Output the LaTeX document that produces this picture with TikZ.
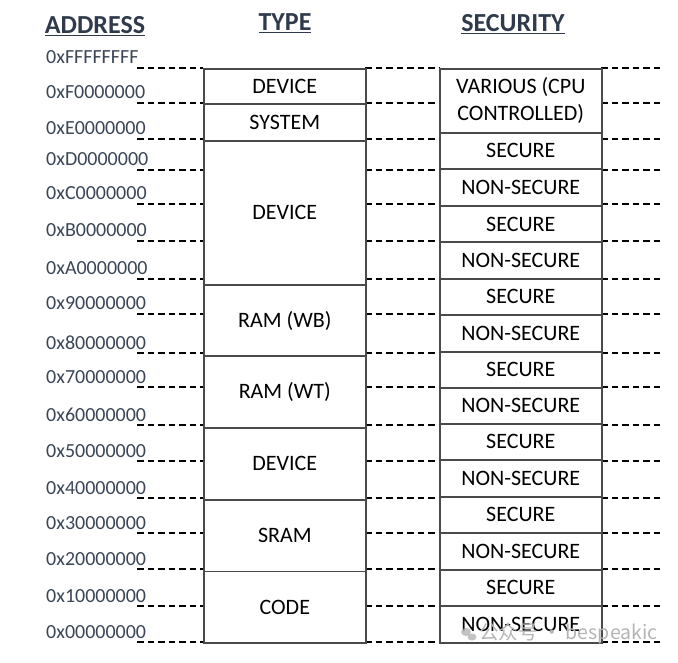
\documentclass[tikz,border=0pt]{standalone}
\usepackage{fontspec}
\setmainfont{Carlito}
\newfontfamily\cjk{Noto Sans CJK SC}
\definecolor{headc}{HTML}{2F3B4C}
\definecolor{addrc}{HTML}{3A4656}
\definecolor{boxline}{HTML}{4A4A4A}
\definecolor{wmc}{HTML}{B4B4B4}
\begin{document}
\begin{tikzpicture}[x=1pt,y=-1pt,
  boxnode/.style={draw=boxline, line width=1.6pt, inner sep=0pt, anchor=north west,
    minimum width=162pt, font=\fontsize{22}{27}\selectfont, text=black, align=center},
  addr/.style={anchor=base west, inner sep=0pt, text=addrc, font=\fontsize{20}{24}\selectfont},
  head/.style={inner sep=0pt, text=headc, font=\fontsize{26}{30}\selectfont\bfseries},
  guide/.style={draw=black, line width=1.1pt, dash pattern=on 6.5pt off 4pt}]
\useasboundingbox (0,0) rectangle (678,663);
% headings
\node[head] (hA) at (95,26) {\underline{ADDRESS}};
\node[head] (hT) at (285,23) {\underline{TYPE}};
\node[head] (hS) at (513,24) {\underline{SECURITY}};
% address labels
\foreach \y/\t/\n in {68/0xFFFFFFFF/0,103/0xF0000000/1,139/0xE0000000/2,170/0xD0000000/3,
  204/0xC0000000/4,241/0xB0000000/5,279/0xA0000000/6,314/0x90000000/7,353/0x80000000/8,
  387/0x70000000/9,425/0x60000000/10,461/0x50000000/11,498/0x40000000/12,533/0x30000000/13,
  569/0x20000000/14,606/0x10000000/15,642/0x00000000/16}{
  \node[addr] (a\n) at (46,\y-4) {\t};
  \draw[guide] (137,\y) -- (203,\y);
  \draw[guide] (365,\y) -- (439,\y);
  \draw[guide] (601,\y) -- (660,\y);
}
% type column
\node[boxnode, minimum height=35.5pt] (t1) at (203,68) {DEVICE};
\node[boxnode, minimum height=36.5pt] (t2) at (203,103.5) {SYSTEM};
\node[boxnode, minimum height=144pt] (t3) at (203,140) {DEVICE};
\node[boxnode, minimum height=71.5pt] (t4) at (203,284) {RAM (WB)};
\node[boxnode, minimum height=71.5pt] (t5) at (203,355.5) {RAM (WT)};
\node[boxnode, minimum height=72pt] (t6) at (203,427) {DEVICE};
\node[boxnode, minimum height=71.5pt] (t7) at (203,499) {SRAM};
\node[boxnode, minimum height=71.5pt] (t8) at (203,570.5) {CODE};
% security column
\node[boxnode, minimum height=64pt] (s0) at (439,68) {VARIOUS (CPU\\CONTROLLED)};
\node[boxnode, minimum height=36pt] (s1) at (439,132) {SECURE};
\node[boxnode, minimum height=37pt] (s2) at (439,168) {NON-SECURE};
\node[boxnode, minimum height=36.5pt] (s3) at (439,205) {SECURE};
\node[boxnode, minimum height=36.5pt] (s4) at (439,241.5) {NON-SECURE};
\node[boxnode, minimum height=36pt] (s5) at (439,278) {SECURE};
\node[boxnode, minimum height=37pt] (s6) at (439,314) {NON-SECURE};
\node[boxnode, minimum height=36pt] (s7) at (439,351) {SECURE};
\node[boxnode, minimum height=36pt] (s8) at (439,387) {NON-SECURE};
\node[boxnode, minimum height=36pt] (s9) at (439,423) {SECURE};
\node[boxnode, minimum height=37pt] (s10) at (439,459) {NON-SECURE};
\node[boxnode, minimum height=36pt] (s11) at (439,496) {SECURE};
\node[boxnode, minimum height=37pt] (s12) at (439,532) {NON-SECURE};
\node[boxnode, minimum height=36pt] (s13) at (439,569) {SECURE};
\node[boxnode, minimum height=37pt] (s14) at (439,605) {NON-SECURE};
% watermark
\fill[wmc, opacity=0.8] (466,632) ellipse [x radius=5pt, y radius=4pt];
\fill[wmc, opacity=0.8] (472,637) ellipse [x radius=4.5pt, y radius=3.5pt];
\node[anchor=west, inner sep=0pt, text=wmc, font=\cjk\fontsize{19.5}{22}\selectfont] (wm) at (479,633) {公众号 · bespeakic};
\end{tikzpicture}
\end{document}
